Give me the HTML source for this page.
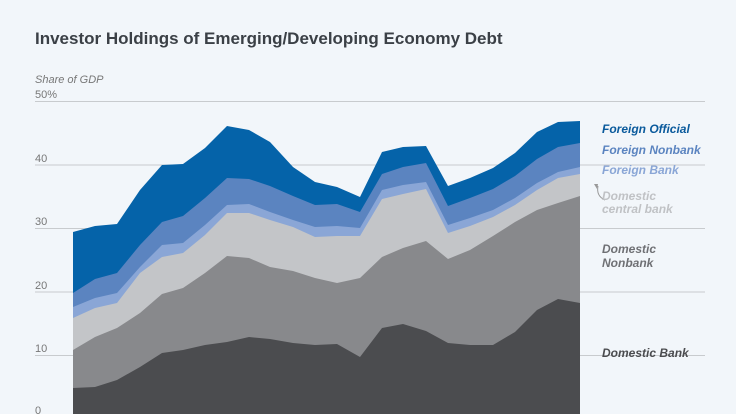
<!DOCTYPE html>
<html><head><meta charset="utf-8"><style>
html,body{margin:0;padding:0;background:#f2f6fa;}
svg{display:block;font-family:"Liberation Sans",sans-serif;}
</style></head><body>
<svg width="736" height="414" viewBox="0 0 736 414">
<rect width="736" height="414" fill="#f2f6fa"/>
<text x="35" y="44" font-size="17" font-weight="bold" fill="#3b4046">Investor Holdings of Emerging/Developing Economy Debt</text>
<text x="35" y="83" font-size="11" font-style="italic" fill="#777">Share of GDP</text>
<text x="35" y="98" font-size="11" fill="#777">50%</text>
<g stroke="#c8cbce" stroke-width="1">
<line x1="35" y1="101.5" x2="705" y2="101.5"/>
<line x1="35" y1="165" x2="705" y2="165"/>
<line x1="35" y1="228.5" x2="705" y2="228.5"/>
<line x1="35" y1="292" x2="705" y2="292"/>
<line x1="35" y1="355.5" x2="705" y2="355.5"/>
</g>
<g font-size="11" fill="#777">
<text x="35" y="162">40</text><text x="35" y="225">30</text><text x="35" y="289">20</text><text x="35" y="352">10</text><text x="35" y="414">0</text>
</g>
<polygon fill="#0563a9" points="73,232 95,226 117,224 140,190 162,165 183,164 205,148 227,126 249,130 270,142 293,167 315,182 337,187 360,197 382,152 403,147 426,146 448,186 470,178 493,168 515,153 537,132 558,122 580,121 580,414 73,414"/>
<polygon fill="#5b84c0" points="73,293 95,279 117,273 140,245 162,222 183,216 205,198 227,178 249,179 270,186 293,196 315,205 337,204 360,212 382,174 403,167 426,163 448,206 470,198 493,189 515,176 537,159 558,147 580,143 580,414 73,414"/>
<polygon fill="#8aa6d6" points="73,307 95,298 117,293 140,267 162,245 183,243 205,225 227,205 249,204 270,212 293,220 315,227 337,226 360,228 382,190 403,185 426,182 448,225 470,218 493,210 515,198 537,183 558,172 580,167 580,414 73,414"/>
<polygon fill="#c3c5c8" points="73,318 95,308 117,303 140,273 162,257 183,253 205,235 227,213 249,213 270,220 293,227 315,237 337,236 360,236 382,199 403,194 426,189 448,233 470,226 493,217 515,205 537,190 558,178 580,174 580,414 73,414"/>
<polygon fill="#88898c" points="73,350 95,337 117,328 140,313 162,294 183,288 205,273 227,256 249,258 270,267 293,271 315,278 337,283 360,278 382,257 403,248 426,241 448,259 470,250 493,236 515,222 537,210 558,203 580,196 580,414 73,414"/>
<polygon fill="#4b4c4f" points="73,388 95,387 117,380 140,367 162,353 183,350 205,345 227,342 249,337 270,339 293,343 315,345 337,344 360,357 382,328 403,324 426,331 448,343 470,345 493,345 515,332 537,310 558,299 580,303 580,414 73,414"/>
<path d="M598,186 Q596,196 605,200" fill="none" stroke="#999" stroke-width="1"/>
<path d="M594,184 L598,184 L597,189 Z" fill="#999"/>
<g font-size="12" font-weight="bold" font-style="italic">
<text x="602" y="133" fill="#0a5a9c">Foreign Official</text>
<text x="602" y="154" fill="#5b84c0">Foreign Nonbank</text>
<text x="602" y="174" fill="#8aa6d6">Foreign Bank</text>
<text x="602" y="200" fill="#c0c2c5">Domestic</text>
<text x="602" y="213" fill="#c0c2c5">central bank</text>
<text x="602" y="253" fill="#6f7074">Domestic</text>
<text x="602" y="267" fill="#6f7074">Nonbank</text>
<text x="602" y="357" fill="#4b4c4f">Domestic Bank</text>
</g>
</svg>
</body></html>
